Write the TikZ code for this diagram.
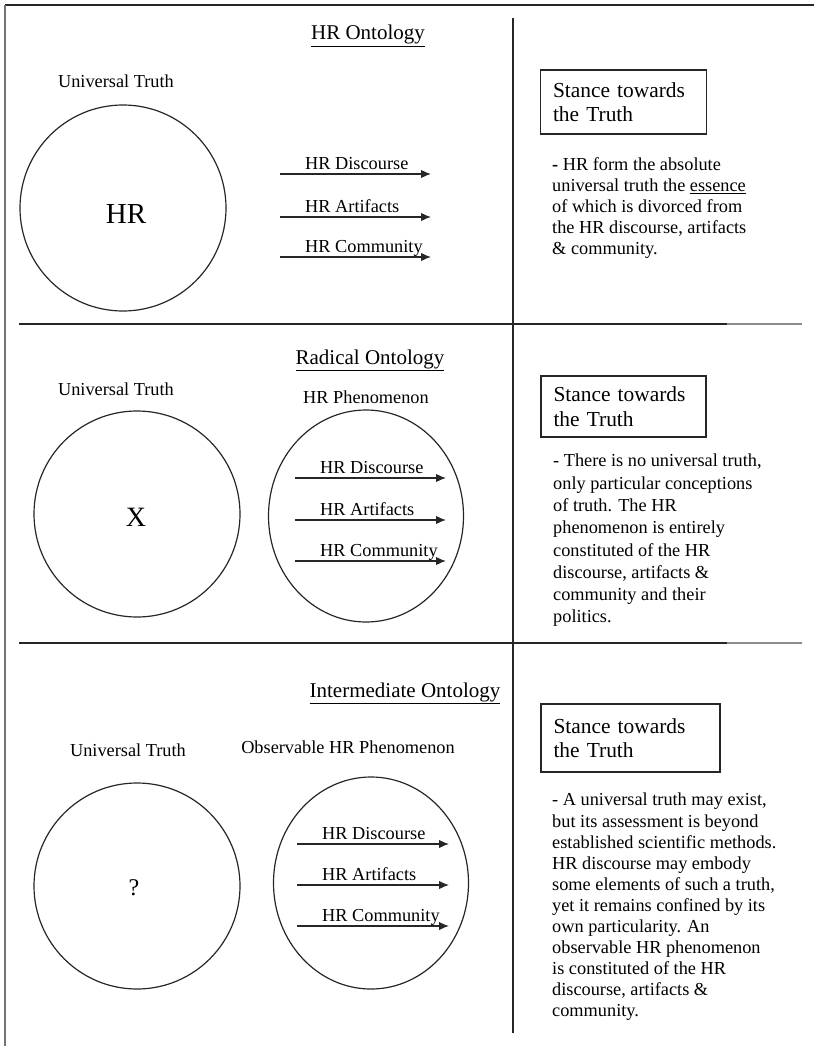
\documentclass[tikz,border=0pt]{standalone}
\usepackage{fontspec}
\setmainfont{Liberation Serif}
\usetikzlibrary{arrows.meta,shapes.geometric}
\begin{document}
\begin{tikzpicture}[x=1pt,y=-1pt,
  frameline/.style={line width=1.3pt, draw=black!85},
  sideline/.style={line width=2pt, draw=black!55},
  rule/.style={line width=1.2pt, draw=black!85},
  fade/.style={line width=1.2pt, draw=black!45},
  orb/.style={circle, draw=black!85, line width=1.2pt, inner sep=0pt},
  oval/.style={ellipse, draw=black!85, line width=1.2pt, inner sep=0pt},
  title/.style={font=\fontsize{21}{24}\selectfont, inner sep=0pt, anchor=base},
  lab/.style={font=\fontsize{18.3}{21}\selectfont, inner sep=0pt},
  flow/.style={line width=1.2pt, draw=black!85, -{Latex[length=10pt,width=8.5pt]}},
  stance/.style={draw=black!85, line width=1.1pt, align=left, inner xsep=12.5pt,
    inner ysep=0pt, font=\fontsize{21.4}{24.5}\selectfont},
  body/.style={align=left, anchor=north west, inner sep=0pt}
]
\useasboundingbox (0,0) rectangle (814,1046);

% outer frame and column / row rules
\coordinate (tl) at (5,5);
\coordinate (tr) at (814,5);
\coordinate (bl) at (5,1046);
\draw[frameline] (tl) -- (tr);
\draw[sideline] (tl) -- (bl);
\coordinate (vt) at (513,18);
\coordinate (vb) at (513,1033);
\draw[rule] (vt) -- (vb);
\coordinate (h1a) at (19,324);
\coordinate (h1b) at (727,324);
\coordinate (h1c) at (802,324);
\draw[rule] (h1a) -- (h1b);
\draw[fade] (h1b) -- (h1c);
\coordinate (h2a) at (19,643);
\coordinate (h2b) at (727,643);
\coordinate (h2c) at (802,643);
\draw[rule] (h2a) -- (h2b);
\draw[fade] (h2b) -- (h2c);

% ---------- HR Ontology ----------
\node[title] (t1) at (368,40) {\underline{HR Ontology}};
\node[lab, anchor=base] (u1) at (116,88) {Universal Truth};
\node[orb, minimum size=206pt] (c1) at (123,208) {};
\node[font=\fontsize{29}{32}\selectfont, inner sep=0pt] (m1) at (126,214) {HR};
\coordinate (a1s) at (280,174); \coordinate (a1e) at (431,174);
\coordinate (b1s) at (280,217); \coordinate (b1e) at (431,217);
\coordinate (d1s) at (280,257); \coordinate (d1e) at (431,257);
\draw[flow] (a1s) -- (a1e);
\draw[flow] (b1s) -- (b1e);
\draw[flow] (d1s) -- (d1e);
\node[lab, anchor=base west] (la1) at (305,169.5) {HR Discourse};
\node[lab, anchor=base west] (lb1) at (305,212.5) {HR Artifacts};
\node[lab, anchor=base west] (ld1) at (305,252.5) {HR Community};
\node[stance, text width=141pt, minimum height=64pt] (s1) at (623.5,102) {Stance towards\\the Truth};
\node[body, font=\fontsize{18.3}{21}\selectfont] (p1) at (552,156) {\strut\textbf{-} HR form the absolute\\universal truth the \underline{essence}\\of which is divorced from\\the HR discourse, artifacts\\\& community.};

% ---------- Radical Ontology ----------
\node[title] (t2) at (370,364) {\underline{Radical Ontology}};
\node[lab, anchor=base] (u2) at (116,395) {Universal Truth};
\node[lab, anchor=base] (ph2) at (366,403) {HR Phenomenon};
\node[orb, minimum size=206pt] (c2) at (137,514) {};
\node[font=\fontsize{28}{32}\selectfont, inner sep=0pt] (m2) at (136,517) {X};
\node[oval, minimum width=195pt, minimum height=212pt] (e2) at (366,516) {};
\coordinate (a2s) at (295,478); \coordinate (a2e) at (446,478);
\coordinate (b2s) at (295,520); \coordinate (b2e) at (446,520);
\coordinate (d2s) at (295,561); \coordinate (d2e) at (446,561);
\draw[flow] (a2s) -- (a2e);
\draw[flow] (b2s) -- (b2e);
\draw[flow] (d2s) -- (d2e);
\node[lab, anchor=base west] (la2) at (320,473.5) {HR Discourse};
\node[lab, anchor=base west] (lb2) at (320,515.5) {HR Artifacts};
\node[lab, anchor=base west] (ld2) at (320,556.5) {HR Community};
\node[stance, text width=140pt, minimum height=61pt] (s2) at (623.5,406.5) {Stance towards\\the Truth};
\node[body, font=\fontsize{18.3}{22.3}\selectfont] (p2) at (553,451) {\strut- There is no universal truth,\\only particular conceptions\\of truth. The HR\\phenomenon is entirely\\constituted of the HR\\discourse, artifacts \&\\community and their\\politics.};

% ---------- Intermediate Ontology ----------
\node[title] (t3) at (405,697) {\underline{Intermediate Ontology}};
\node[lab, anchor=base] (u3) at (128,756) {Universal Truth};
\node[lab, anchor=base] (ph3) at (348,753) {Observable HR Phenomenon};
\node[orb, minimum size=206pt] (c3) at (137,886) {};
\node[font=\fontsize{24}{28}\selectfont, inner sep=0pt] (m3) at (134,888) {?};
\node[oval, minimum width=195pt, minimum height=212pt] (e3) at (371,883) {};
\coordinate (a3s) at (297,844); \coordinate (a3e) at (449,844);
\coordinate (b3s) at (297,885); \coordinate (b3e) at (449,885);
\coordinate (d3s) at (297,926); \coordinate (d3e) at (449,926);
\draw[flow] (a3s) -- (a3e);
\draw[flow] (b3s) -- (b3e);
\draw[flow] (d3s) -- (d3e);
\node[lab, anchor=base west] (la3) at (322,839.5) {HR Discourse};
\node[lab, anchor=base west] (lb3) at (322,880.5) {HR Artifacts};
\node[lab, anchor=base west] (ld3) at (322,921.5) {HR Community};
\node[stance, text width=154pt, minimum height=68pt] (s3) at (630.5,738) {Stance towards\\the Truth};
\node[body, font=\fontsize{18.3}{21.1}\selectfont] (p3) at (552,791) {\strut- A universal truth may exist,\\but its assessment is beyond\\established scientific methods.\\HR discourse may embody\\some elements of such a truth,\\yet it remains confined by its\\own particularity. An\\observable HR phenomenon\\is constituted of the HR\\discourse, artifacts \&\\community.};
\end{tikzpicture}
\end{document}
